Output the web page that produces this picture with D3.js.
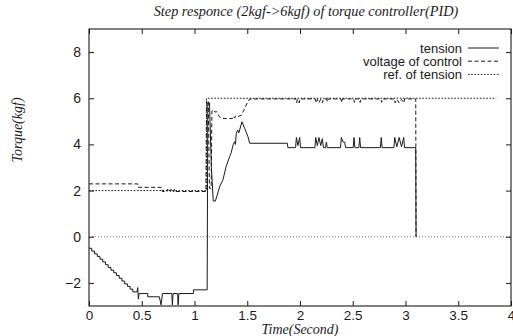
<!DOCTYPE html>
<html>
<head>
<meta charset="utf-8">
<script src="https://cdn.jsdelivr.net/npm/d3@7"></script>
<style>
  body { margin: 0; background: #fff; }
  svg { display: block; }
</style>
</head>
<body>
<svg id="chart" width="513" height="336"></svg>
<script>
// data: [time (s), torque (kgf)]
const tension = [
  [0, -0.5], [0.026, -0.5], [0.026, -0.62], [0.052, -0.62], [0.052, -0.74], [0.078, -0.74],
  [0.078, -0.85], [0.104, -0.85], [0.104, -0.97], [0.13, -0.97], [0.13, -1.09], [0.156, -1.09],
  [0.156, -1.21], [0.182, -1.21], [0.182, -1.33], [0.208, -1.33], [0.208, -1.45], [0.234, -1.45],
  [0.234, -1.56], [0.26, -1.56], [0.26, -1.68], [0.286, -1.68], [0.286, -1.8], [0.312, -1.8],
  [0.312, -1.92], [0.338, -1.92], [0.338, -2.04], [0.364, -2.04], [0.364, -2.15], [0.39, -2.15],
  [0.39, -2.27], [0.416, -2.27], [0.416, -2.39], [0.455, -2.39], [0.462, -2.2], [0.468, -2.7],
  [0.475, -2.46], [0.557, -2.46], [0.557, -2.6], [0.667, -2.6], [0.683, -2.95], [0.697, -2.46],
  [0.785, -2.46], [0.79, -2.95], [0.797, -2.46], [0.84, -2.46], [0.845, -2.95], [0.852, -2.46],
  [0.99, -2.46], [0.99, -2.3], [1.12, -2.3], [1.126, 5.8], [1.142, 5.8], [1.16, 3.0],
  [1.178, 1.55], [1.198, 1.55], [1.24, 2.19], [1.27, 2.47], [1.3, 3.05], [1.334, 3.48],
  [1.345, 3.6], [1.366, 3.98], [1.38, 4.12], [1.388, 4.0], [1.396, 4.48], [1.41, 4.62],
  [1.42, 4.5], [1.45, 4.98], [1.476, 4.69], [1.507, 4.33], [1.523, 4.05], [1.88, 4.05],
  [1.885, 3.86], [1.958, 3.86], [1.966, 4.3], [1.98, 3.95], [1.997, 4.3], [2.005, 3.86],
  [2.141, 3.86], [2.149, 4.3], [2.164, 3.95], [2.18, 4.3], [2.196, 3.95], [2.212, 4.25],
  [2.222, 3.86], [2.242, 3.86], [2.25, 4.1], [2.258, 3.86], [2.384, 3.86], [2.392, 4.3],
  [2.408, 4.1], [2.424, 4.1], [2.432, 3.86], [2.504, 3.86], [2.512, 4.3], [2.52, 3.86],
  [2.558, 3.86], [2.566, 4.3], [2.574, 3.86], [2.762, 3.86], [2.77, 4.3], [2.778, 3.86],
  [2.89, 3.86], [2.898, 4.3], [2.918, 3.9], [2.94, 4.3], [2.962, 3.9], [2.983, 4.3],
  [2.991, 3.86], [3.097, 3.86], [3.1, 0]
];

const voltage = [
  [0, 2.29], [0.462, 2.29], [0.468, 2.14], [0.69, 2.14], [0.696, 1.96], [0.74, 1.96],
  [0.746, 2.06], [0.752, 1.96], [0.772, 1.96], [0.777, 2.06], [0.783, 1.96], [0.805, 1.96],
  [0.81, 2.06], [0.816, 1.96], [1.108, 1.96], [1.115, 5.9], [1.13, 5.9], [1.142, 2.1],
  [1.158, 2.1], [1.165, 5.45], [1.18, 5.5], [1.195, 5.4], [1.21, 5.42], [1.235, 5.2],
  [1.27, 5.12], [1.36, 5.12], [1.37, 5.22], [1.38, 5.14], [1.39, 5.24], [1.41, 5.2],
  [1.445, 5.27], [1.475, 5.55], [1.5, 5.8], [1.52, 5.95], [1.55, 5.97], [1.962, 5.97],
  [1.968, 5.8], [1.976, 5.95], [1.992, 5.8], [2.0, 5.97], [2.145, 5.97], [2.152, 5.8],
  [2.165, 5.95], [2.18, 5.8], [2.195, 5.95], [2.212, 5.8], [2.222, 5.97], [2.252, 5.97],
  [2.26, 5.84], [2.268, 5.97], [2.388, 5.97], [2.396, 5.82], [2.404, 5.97], [2.508, 5.97],
  [2.516, 5.82], [2.524, 5.97], [2.562, 5.97], [2.57, 5.82], [2.578, 5.97], [2.766, 5.97],
  [2.774, 5.82], [2.782, 5.97], [2.895, 5.97], [2.902, 5.8], [2.918, 5.95], [2.94, 5.8],
  [2.962, 5.95], [2.983, 5.8], [2.992, 5.97], [3.097, 5.97], [3.1, 0]
];

const reference = [[0, 2], [1.113, 2], [1.113, 6], [3.86, 6]];

const xTicks = [0, 0.5, 1, 1.5, 2, 2.5, 3, 3.5, 4];
const yTicks = [-2, 0, 2, 4, 6, 8];
const legendLabels = ['tension', 'voltage of control', 'ref. of tension'];
const dashes = [null, '4,2.5', '1.6,1.6'];

const plotLeft = 89, plotRight = 511, plotTop = 29, plotBottom = 306;
const ink = '#1a1a1a';

const svg = d3.select('#chart');

const x = d3.scaleLinear().domain([0, 4]).range([plotLeft, plotRight]);
const y = d3.scaleLinear().domain([-3, 9]).range([plotBottom, plotTop]);

// zero axis (dotted, like gnuplot's zeroaxis)
svg.append('line')
  .attr('x1', plotLeft).attr('x2', plotRight)
  .attr('y1', y(0)).attr('y2', y(0))
  .attr('stroke', '#555')
  .attr('stroke-width', 0.8)
  .attr('stroke-dasharray', '1,2');

// axes with inward ticks, mirrored
const tickStyle = function(g) {
  g.select('.domain').remove();
  g.selectAll('.tick line').attr('stroke', ink).attr('stroke-width', 1);
  g.selectAll('.tick text')
    .attr('fill', ink)
    .style('font-family', '"Liberation Sans", Arial, sans-serif')
    .style('font-size', '14px');
};

svg.append('g')
  .attr('transform', 'translate(0,' + plotBottom + ')')
  .call(d3.axisBottom(x).tickValues(xTicks).tickSizeInner(-5).tickPadding(4)
    .tickFormat(d3.format('')))
  .call(tickStyle)
  .selectAll('.tick text')
  .style('font-size', '13.5px');

svg.append('g')
  .attr('transform', 'translate(0,' + plotTop + ')')
  .call(d3.axisTop(x).tickValues(xTicks).tickSizeInner(-5).tickFormat(''))
  .call(tickStyle);

svg.append('g')
  .attr('transform', 'translate(' + plotLeft + ',0)')
  .call(d3.axisLeft(y).tickValues(yTicks).tickSizeInner(-5).tickPadding(8))
  .call(tickStyle);

svg.append('g')
  .attr('transform', 'translate(' + plotRight + ',0)')
  .call(d3.axisRight(y).tickValues(yTicks).tickSizeInner(-5).tickFormat(''))
  .call(tickStyle);

// frame
svg.append('rect')
  .attr('x', plotLeft).attr('y', plotTop)
  .attr('width', plotRight - plotLeft).attr('height', plotBottom - plotTop)
  .attr('fill', 'none')
  .attr('stroke', ink)
  .attr('stroke-width', 1.1);

const line = d3.line()
  .x(function(d) { return x(d[0]); })
  .y(function(d) { return y(d[1]); });

const series = [tension, voltage, reference];

svg.append('g')
  .selectAll('path')
  .data(series)
  .enter()
  .append('path')
  .attr('d', line)
  .attr('fill', 'none')
  .attr('stroke', ink)
  .attr('stroke-width', 1)
  .attr('stroke-linejoin', 'round')
  .attr('stroke-dasharray', function(d, i) { return dashes[i]; });

// legend
const legend = svg.append('g')
  .selectAll('g')
  .data(legendLabels)
  .enter()
  .append('g')
  .attr('transform', function(d, i) { return 'translate(0,' + (48 + i * 13.2) + ')'; });

legend.append('text')
  .attr('x', 462)
  .attr('y', 4.5)
  .attr('text-anchor', 'end')
  .attr('fill', ink)
  .style('font-family', '"Liberation Sans", Arial, sans-serif')
  .style('font-size', '13px')
  .text(function(d) { return d; });

legend.append('line')
  .attr('x1', 468).attr('x2', 499)
  .attr('y1', 0).attr('y2', 0)
  .attr('stroke', ink)
  .attr('stroke-width', 1)
  .attr('stroke-dasharray', function(d, i) { return dashes[i]; });

// titles
const serif = '"Liberation Serif", "Times New Roman", serif';

svg.append('text')
  .attr('x', 306).attr('y', 16)
  .attr('text-anchor', 'middle')
  .style('font-family', serif)
  .style('font-style', 'italic')
  .style('font-size', '14.3px')
  .attr('fill', ink)
  .text('Step responce (2kgf->6kgf) of torque controller(PID)');

svg.append('text')
  .attr('x', 300).attr('y', 334)
  .attr('text-anchor', 'middle')
  .style('font-family', serif)
  .style('font-style', 'italic')
  .style('font-size', '14px')
  .attr('fill', ink)
  .text('Time(Second)');

svg.append('text')
  .attr('transform', 'translate(22,130) rotate(-90)')
  .attr('text-anchor', 'middle')
  .style('font-family', serif)
  .style('font-style', 'italic')
  .style('font-size', '14px')
  .attr('fill', ink)
  .text('Torque(kgf)');
</script>
</body>
</html>
